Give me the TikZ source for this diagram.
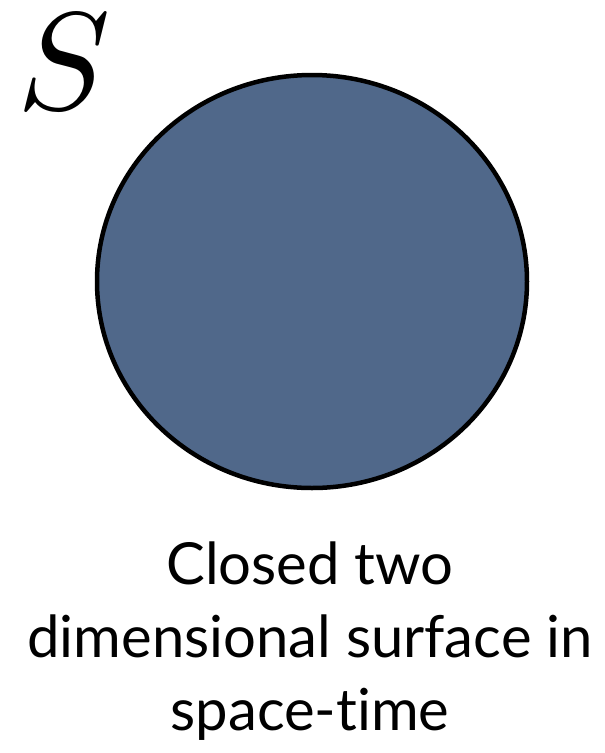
\documentclass[tikz,border=0pt]{standalone}
\usepackage{fontspec}
\setmainfont[Ligatures=NoCommon]{Lato}
\definecolor{surfblue}{RGB}{80,104,138}

\newcommand*{\surfx}{312}
\newcommand*{\surfy}{281.5}
\newcommand*{\surfrx}{215}
\newcommand*{\surfry}{206.5}

\begin{document}
\begin{tikzpicture}
[
	x=1pt,y=-1pt,
	label/.style={inner sep=0pt,align=center,font=\fontsize{58}{73}\selectfont},
	surf/.style={draw=black,line width=4.5pt,fill=surfblue}
]

	\useasboundingbox (0,0) rectangle (605,753);

	% the surface
	\draw[surf] (\surfx,\surfy) ellipse [x radius=\surfrx, y radius=\surfry];

	% name
	\node[inner sep=0pt,scale=13.9] (name) at (64,62) {$S$};

	% caption
	\node[label,anchor=north] (caption) at (310,542) {Closed two\\dimensional surface in\\space-time};

\end{tikzpicture}
\end{document}
